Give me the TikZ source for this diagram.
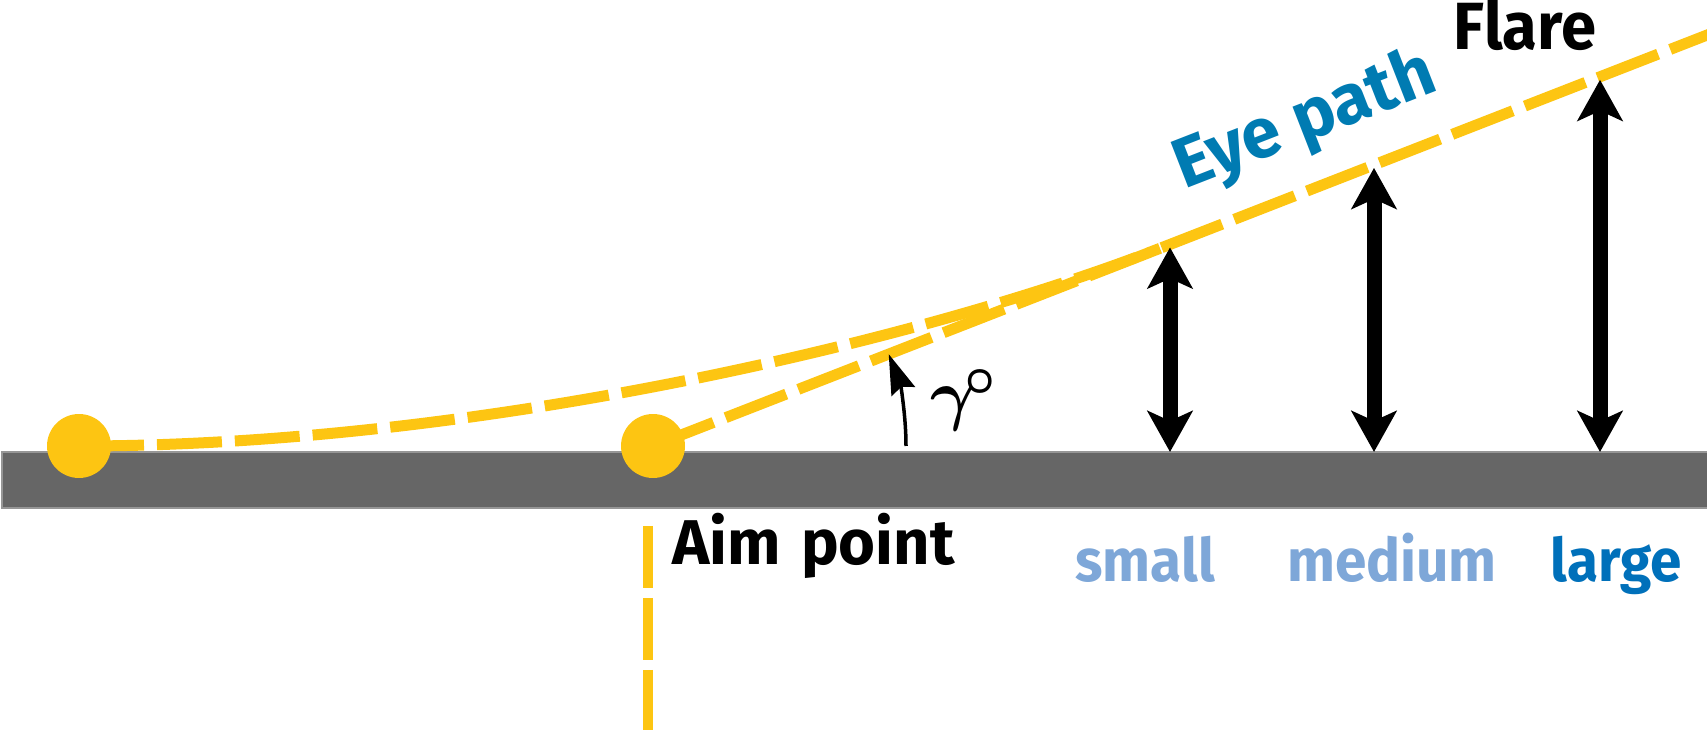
\documentclass[tikz,border=0pt]{standalone}
\usepackage{fontspec}
\setmainfont{Fira Sans}
\newfontfamily\narrowFont[FakeStretch=0.95]{Fira Sans}
\usepackage{graphicx}
\usepackage{tikz}
\usetikzlibrary{arrows.meta, calc}
\definecolor{flareYellow}{RGB}{253,197,18}
\definecolor{runwayGray}{RGB}{102,102,102}
\definecolor{runwayEdge}{RGB}{150,150,150}
\definecolor{eyeBlue}{RGB}{0,123,178}
\definecolor{paleBlue}{RGB}{126,167,216}
\definecolor{deepBlue}{RGB}{0,112,186}

\begin{document}
\begin{tikzpicture}[x=0.02cm, y=0.02cm,
  glide/.style={draw=flareYellow, line width=0.22cm,
                dash pattern=on 1.3cm off 0.26cm},
  ball/.style={circle, fill=flareYellow, minimum size=1.28cm, inner sep=0pt},
  hgt/.style={{Stealth[length=0.82cm, width=0.9cm, inset=0.2cm]}-%
              {Stealth[length=0.82cm, width=0.9cm, inset=0.2cm]},
              line width=0.3cm},
  lbl/.style={font=\fontsize{34}{40}\selectfont\bfseries, inner sep=0pt},
  size/.style={font=\narrowFont\fontsize{34}{40}\selectfont\bfseries,
               inner sep=0pt, anchor=base, text=#1}
]
  \useasboundingbox (0,0) rectangle (1707,730);
  \def\gam{21.3}

  \draw[fill=runwayGray, draw=runwayEdge, line width=0.05cm]
    (2,222) rectangle (1712,278);

  \coordinate (touch) at (79,284);
  \coordinate (aimPt) at (653,284);
  \coordinate (merge) at (1160,481.7);
  \coordinate (edge) at (1720,700);
  \coordinate (aimMark) at (648,204);
  \coordinate (aimFoot) at (648,-10);

  \draw[glide] (touch) .. controls (480,284) and (927,390.9) .. (merge);
  \draw[glide] (aimPt) -- (edge);
  \draw[draw=flareYellow, line width=0.2cm, dash pattern=on 1.24cm off 0.2cm]
    (aimMark) -- (aimFoot);

  \node[ball] (touchBall) at (touch) {};
  \node[ball] (aimBall) at (aimPt) {};

  \foreach \nm/\xx in {small/1170, medium/1374, large/1600} {
    \pgfmathsetmacro\yy{284+(\xx-653)*tan(\gam)-3}
    \coordinate (\nm Foot) at (\xx,278);
    \coordinate (\nm Top) at (\xx,\yy);
    \draw[hgt] (\nm Foot) -- (\nm Top);
  }

  \coordinate (arcStart) at (906,284);
  \draw[-{Stealth[length=0.8cm, width=0.5cm, inset=0.1cm]}, line width=0.07cm]
    (arcStart) arc[start angle=0, end angle=\gam, radius=5.06cm];
  \node[anchor=base west, inner sep=0pt]
    (gamTxt) at (930,312) {\scalebox{3.9}{\boldmath$\gamma^{\!\circ}$}};

  \node[lbl, anchor=base west, font=\fontsize{36}{42}\selectfont\bfseries]
    (aimTxt) at (672,165) {Aim\hspace{0.08em} point};
  \node[size=paleBlue] (smallTxt) at (1145,148) {small};
  \node[size=paleBlue] (mediumTxt) at (1392,148) {medium};
  \node[size=deepBlue] (largeTxt) at (1616,148) {large};
  \node[size=black, font=\narrowFont\fontsize{38}{44}\selectfont\bfseries]
    (flareTxt) at (1525,680) {Flare};
  \node[lbl, anchor=base, rotate=\gam, text=eyeBlue,
        font=\fontsize{40}{46}\selectfont\bfseries]
    (eyeTxt) at (1312,590) {Eye path};
\end{tikzpicture}
\end{document}
